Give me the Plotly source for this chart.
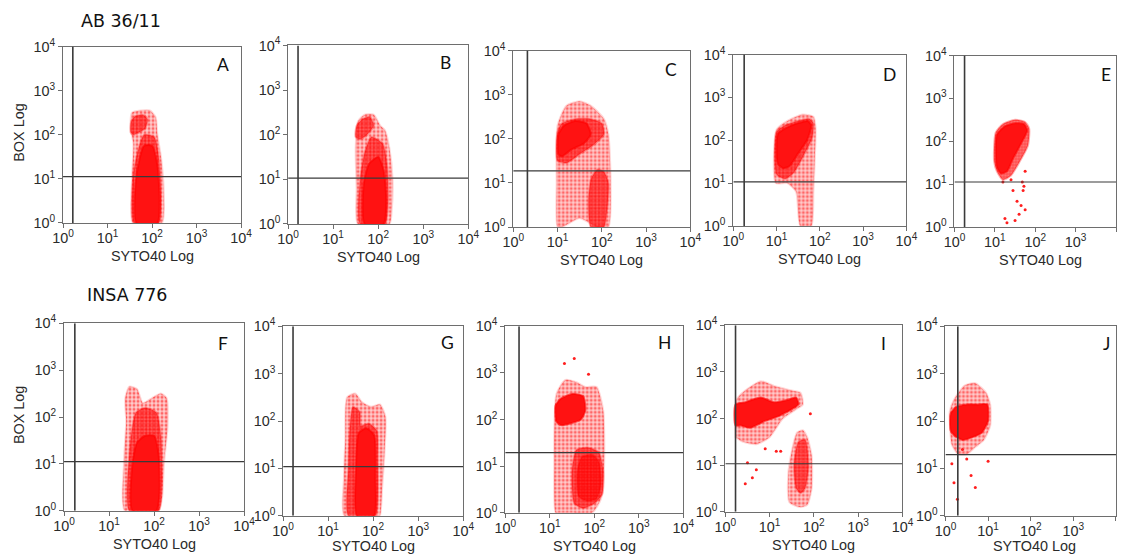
import plotly.graph_objects as go

W, H = 1127, 557

# ---------------------------------------------------------------------------
# Data (all coordinates in log10 decades: 0 -> 10^0 ... 4 -> 10^4)
# ---------------------------------------------------------------------------
PANELS = ["A", "B", "C", "D", "E", "F", "G", "H", "I", "J"]
STRAINS = ["AB 36/11", "INSA 776"]
DECADES = [0, 1, 2, 3, 4]
TICK_TEXT = ["10<sup>%d</sup>" % d for d in DECADES]

# gate positions (SYTO40 threshold, BOX threshold) per panel
GATE_SYTO40 = [0.22, 0.22, 0.32, 0.25, 0.25, 0.24, 0.22, 0.31, 0.23, 0.29]
GATE_BOX = [1.05, 1.03, 1.27, 1.03, 1.05, 1.05, 1.04, 1.29, 1.03, 1.29]

# population outlines: (SYTO40 decades, BOX decades)
A_HAZE = ([1.57, 1.55, 1.58, 1.52, 1.55, 1.75, 1.95, 2.08, 2.12, 2.2, 2.26, 2.22],
          [0, 1.0, 1.8, 2.15, 2.5, 2.55, 2.55, 2.4, 2.0, 1.5, 0.8, 0])
A_MID = ([1.6, 1.58, 1.7, 1.82, 2.05, 2.15, 2.2, 2.15],
         [0, 1.1, 1.7, 2.0, 1.95, 1.5, 0.6, 0])
A_BLOB = ([1.52, 1.53, 1.62, 1.8, 1.9, 1.85, 1.7, 1.58],
          [2.05, 2.3, 2.42, 2.45, 2.35, 2.15, 2.05, 2.0])
A_CORE = ([1.65, 1.63, 1.72, 1.82, 2.0, 2.12, 2.17, 2.12],
          [0, 0.9, 1.45, 1.75, 1.75, 1.3, 0.5, 0])

B_HAZE = ([1.55, 1.52, 1.5, 1.55, 1.7, 1.9, 2.05, 2.15, 2.25, 2.32, 2.3, 2.25],
          [0, 0.8, 1.7, 2.3, 2.45, 2.45, 2.2, 2.1, 1.7, 1.0, 0.3, 0])
B_BLOB = ([1.5, 1.52, 1.65, 1.82, 1.9, 1.75, 1.6],
          [1.95, 2.2, 2.35, 2.4, 2.2, 2.0, 1.9])
B_MID = ([1.6, 1.6, 1.7, 1.85, 2.1, 2.2, 2.22, 2.15],
         [0, 1.0, 1.6, 1.95, 1.8, 1.3, 0.5, 0])
B_CORE = ([1.7, 1.68, 1.8, 2.0, 2.12, 2.18, 2.12],
          [0, 0.9, 1.35, 1.5, 1.2, 0.5, 0])

C_HAZE = ([1.0, 0.98, 1.0, 1.2, 1.5, 1.75, 2.05, 2.15, 2.2, 2.15, 1.9, 1.5, 1.1],
          [0, 1.0, 2.3, 2.75, 2.85, 2.75, 2.45, 2.1, 1.0, 0, 0, 0.2, 0])
C_MID = ([1.0, 1.0, 1.1, 1.4, 1.75, 2.0, 2.05, 1.8, 1.5, 1.2],
         [1.5, 2.15, 2.35, 2.45, 2.45, 2.35, 2.1, 1.85, 1.65, 1.45])
C_LOW = ([1.75, 1.7, 1.76, 1.9, 2.05, 2.15, 2.12, 2.05, 1.9],
         [0, 0.6, 1.1, 1.3, 1.25, 1.0, 0.4, 0, 0])
C_CORE = ([1.02, 1.02, 1.15, 1.4, 1.65, 1.75, 1.6, 1.3, 1.1],
          [1.65, 2.1, 2.3, 2.4, 2.35, 2.1, 1.9, 1.75, 1.6])

D_HAZE = ([0.98, 1.0, 1.25, 1.6, 1.85, 1.9, 1.88, 1.85, 1.8, 1.55, 1.45, 1.25],
          [1.0, 2.25, 2.45, 2.6, 2.55, 2.3, 1.5, 0.8, 0, 0, 0.8, 1.0])
D_MID = ([1.0, 1.0, 1.2, 1.5, 1.75, 1.85, 1.82, 1.6, 1.4, 1.2],
         [1.2, 2.2, 2.35, 2.45, 2.5, 2.4, 2.05, 1.6, 1.25, 1.1])
D_CORE = ([1.03, 1.03, 1.25, 1.5, 1.72, 1.8, 1.7, 1.5, 1.3, 1.15],
          [1.45, 2.15, 2.3, 2.4, 2.45, 2.35, 2.0, 1.7, 1.4, 1.35])

E_HAZE = ([0.98, 1.02, 1.2, 1.5, 1.75, 1.85, 1.82, 1.6, 1.4, 1.2, 1.05],
          [1.55, 2.2, 2.4, 2.5, 2.45, 2.3, 1.9, 1.5, 1.2, 1.1, 1.3])
E_CORE = ([1.03, 1.05, 1.25, 1.5, 1.72, 1.8, 1.65, 1.45, 1.3, 1.15, 1.05],
          [1.6, 2.15, 2.35, 2.42, 2.4, 2.25, 1.95, 1.6, 1.3, 1.25, 1.4])
E_EVENTS = ([1.25, 1.3, 1.5, 1.55, 1.65, 1.7, 1.75, 1.68, 1.45, 1.4, 1.72, 1.2, 1.6, 1.75],
            [0.2, 0.1, 0.15, 0.6, 0.5, 0.85, 0.4, 1.05, 0.85, 1.1, 0.95, 1.05, 0.3, 1.3])

F_HAZE = ([1.35, 1.33, 1.38, 1.36, 1.45, 1.62, 1.75, 1.95, 2.15, 2.28, 2.3, 2.22, 2.18, 2.1],
          [0, 1.0, 1.9, 2.4, 2.65, 2.6, 2.3, 2.4, 2.5, 2.4, 1.8, 1.0, 0.3, 0])
F_MID = ([1.45, 1.45, 1.52, 1.6, 1.8, 2.05, 2.15, 2.17, 2.1],
         [0, 1.2, 1.8, 2.1, 2.2, 2.1, 1.6, 0.6, 0])
F_CORE = ([1.52, 1.52, 1.62, 1.8, 2.0, 2.1, 2.12, 2.05],
          [0, 1.0, 1.45, 1.6, 1.6, 1.2, 0.4, 0])

G_HAZE = ([1.36, 1.35, 1.38, 1.42, 1.6, 1.75, 1.95, 2.15, 2.27, 2.25, 2.2, 2.15, 2.1],
          [0, 0.8, 1.6, 2.5, 2.58, 2.4, 2.3, 2.35, 2.1, 1.3, 0.6, 0, 0])
G_MID = ([1.45, 1.45, 1.48, 1.55, 1.7, 1.72, 1.9, 2.08, 2.1, 2.1, 2.05],
         [0, 1.0, 1.8, 2.3, 2.2, 1.9, 1.95, 1.8, 1.2, 0.3, 0])
G_CORE = ([1.64, 1.62, 1.68, 1.85, 2.02, 2.05, 2.02],
          [0, 1.0, 1.75, 1.85, 1.7, 0.8, 0])

H_HAZE = ([1.13, 1.1, 1.15, 1.35, 1.6, 1.8, 2.05, 2.2, 2.22, 2.15, 1.95, 1.5, 1.2],
          [0, 1.0, 2.55, 2.85, 2.8, 2.7, 2.7, 2.2, 1.0, 0.3, 0, 0, 0])
H_MID = ([1.55, 1.5, 1.6, 1.85, 2.1, 2.2, 2.18, 2.0, 1.75],
         [0.2, 0.9, 1.35, 1.4, 1.3, 0.9, 0.4, 0.2, 0.1])
H_CORE = ([1.15, 1.13, 1.25, 1.5, 1.75, 1.8, 1.7, 1.4, 1.25],
          [1.95, 2.3, 2.45, 2.55, 2.5, 2.2, 2.0, 1.9, 1.88])
H_LOW = ([1.65, 1.62, 1.72, 1.95, 2.1, 2.15, 2.05, 1.85],
         [0.35, 0.9, 1.2, 1.25, 1.1, 0.6, 0.3, 0.25])
H_EVENTS = ([1.55, 1.33, 1.87], [3.31, 3.2, 2.97])

I_HAZE = ([0.23, 0.25, 0.45, 0.8, 1.1, 1.5, 1.7, 1.75, 1.6, 1.3, 1.0, 0.7, 0.4, 0.23],
          [1.6, 2.4, 2.6, 2.8, 2.7, 2.6, 2.55, 2.3, 2.2, 2.0, 1.6, 1.45, 1.5, 1.6])
I_CORE = ([0.23, 0.23, 0.45, 0.8, 1.1, 1.4, 1.6, 1.65, 1.5, 1.2, 0.9, 0.55, 0.35],
          [1.85, 2.3, 2.35, 2.45, 2.35, 2.4, 2.45, 2.3, 2.2, 2.05, 1.95, 1.8, 1.85])
I_TAIL = ([1.45, 1.42, 1.5, 1.62, 1.75, 1.85, 1.95, 1.95, 1.85, 1.7],
          [0.2, 0.8, 1.3, 1.7, 1.75, 1.6, 1.2, 0.5, 0.15, 0.1])
I_TAIL_MID = ([1.6, 1.55, 1.65, 1.8, 1.88, 1.8, 1.7],
              [0.5, 1.0, 1.5, 1.55, 1.0, 0.5, 0.4])
I_EVENTS = ([0.5, 0.45, 0.7, 1.15, 0.9, 1.25, 1.92, 0.61],
            [1.05, 0.6, 0.9, 1.3, 1.35, 1.3, 2.1, 0.73])

J_HAZE = ([0.12, 0.1, 0.2, 0.45, 0.7, 0.95, 1.05, 1.05, 0.9, 0.7, 0.5, 0.3, 0.15],
          [1.7, 2.2, 2.45, 2.75, 2.8, 2.6, 2.35, 1.9, 1.6, 1.45, 1.3, 1.3, 1.5])
J_CORE = ([0.12, 0.12, 0.25, 0.5, 0.75, 0.98, 1.0, 0.85, 0.6, 0.4, 0.2],
          [1.8, 2.15, 2.3, 2.35, 2.35, 2.35, 2.0, 1.75, 1.65, 1.6, 1.7])
J_EVENTS = ([0.15, 0.2, 0.5, 0.6, 0.7, 1.0, 0.4, 0.28],
            [1.1, 0.7, 1.2, 0.85, 0.6, 1.15, 1.4, 0.35])

# drawing order per panel: (outline, density level)
POPULATIONS = {
    "A": [(A_HAZE, "haze"), (A_MID, "mid"), (A_BLOB, "mid"), (A_CORE, "core")],
    "B": [(B_HAZE, "haze"), (B_BLOB, "mid"), (B_MID, "mid"), (B_CORE, "core")],
    "C": [(C_HAZE, "haze"), (C_MID, "mid"), (C_LOW, "mid"), (C_CORE, "core")],
    "D": [(D_HAZE, "haze"), (D_MID, "mid"), (D_CORE, "core")],
    "E": [(E_HAZE, "mid"), (E_CORE, "core")],
    "F": [(F_HAZE, "haze"), (F_MID, "mid"), (F_CORE, "core")],
    "G": [(G_HAZE, "haze"), (G_MID, "mid"), (G_CORE, "core")],
    "H": [(H_HAZE, "haze"), (H_MID, "mid"), (H_CORE, "core"), (H_LOW, "mid")],
    "I": [(I_HAZE, "haze"), (I_TAIL, "haze"), (I_TAIL_MID, "mid"), (I_CORE, "core")],
    "J": [(J_HAZE, "haze"), (J_CORE, "core")],
}
EVENTS = {"E": E_EVENTS, "H": H_EVENTS, "I": I_EVENTS, "J": J_EVENTS}

# ---------------------------------------------------------------------------
# Layout. Positions below are window pixels; the page shows the figure with a
# small body inset and slight scaling, so they are mapped into figure pixels.
# ---------------------------------------------------------------------------
INSET_X, SCALE_X = 11.0, 0.98
INSET_Y, SCALE_Y = 10.6, 0.965
FONT_SCALE = 1 / 0.972


def fx(px):
    """window x pixel -> paper fraction"""
    return min(max((px - INSET_X) / SCALE_X / W, 0.0), 1.0)


def fy(py):
    """window y pixel -> paper fraction (measured from the bottom)"""
    return min(max(1 - (py - INSET_Y) / SCALE_Y / H, 0.0), 1.0)


# plot-area boxes (left, right, top, bottom)
BOXES = {
    "A": (63, 241, 47, 223), "B": (288, 468, 46, 224), "C": (513, 690, 51, 227),
    "D": (733, 906, 55, 226), "E": (954, 1126, 56, 227),
    "F": (64, 244, 323, 510), "G": (283, 463, 326, 515), "H": (505, 683, 326, 512),
    "I": (725, 902, 325, 511), "J": (945, 1123, 326, 515),
}
# panel letter centres
LETTER_POS = {
    "A": (223, 65), "B": (445, 63), "C": (671, 70), "D": (889, 75), "E": (1105, 75),
    "F": (223, 343), "G": (447, 342), "H": (664, 342), "I": (883, 343), "J": (1106, 343),
}
# speckled density levels drawn as dotted pattern fills
PATTERN = {
    "haze": dict(shape=".", fgcolor="rgb(255,0,0)", bgcolor="rgba(255,0,0,0.2)",
                 size=4, solidity=0.45),
    "mid": dict(shape=".", fgcolor="rgb(255,0,0)", bgcolor="rgba(255,0,0,0.48)",
                size=3, solidity=0.6),
    "core": None,
}
EDGE = {"haze": "rgba(255,0,0,0.15)", "mid": "rgba(255,0,0,0.3)", "core": "rgba(255,0,0,0.6)"}

SANS = "Liberation Sans, Arial, sans-serif"
TICK_FONT = dict(family=SANS, size=14 * FONT_SCALE, color="#2a2a2a")
LABEL_FONT = dict(family=SANS, size=14 * FONT_SCALE, color="#2a2a2a")
LETTER_FONT = dict(family="Lato, Open Sans, sans-serif", size=17 * FONT_SCALE, color="#111")
HEAD_FONT = dict(family="DejaVu Sans, sans-serif", size=17 * FONT_SCALE, color="#111")
FRAME = "#6e6e6e"
GATE = "#3a3a3a"

fig = go.Figure()
layout = dict(
    width=W, height=H, margin=dict(l=0, r=0, t=0, b=0),
    paper_bgcolor="white", plot_bgcolor="white", showlegend=False,
    shapes=[], annotations=[],
)

for i, pid in enumerate(PANELS):
    n = "" if i == 0 else str(i + 1)
    xa, ya = "x" + n, "y" + n
    left, right, top, bottom = BOXES[pid]

    for (xs, ys), level in POPULATIONS[pid]:
        style = dict(fillcolor="rgb(255,18,18)") if PATTERN[level] is None \
            else dict(fillpattern=PATTERN[level], fillcolor="rgba(0,0,0,0)")
        fig.add_trace(go.Scatter(
            x=list(xs) + [xs[0]], y=list(ys) + [ys[0]], xaxis=xa, yaxis=ya,
            mode="lines", fill="toself",
            line=dict(color=EDGE[level], width=2, shape="spline", smoothing=0.6),
            hoverinfo="skip", **style,
        ))
    if pid in EVENTS:
        ex, ey = EVENTS[pid]
        fig.add_trace(go.Scatter(
            x=ex, y=ey, xaxis=xa, yaxis=ya, mode="markers",
            marker=dict(color="rgb(255,30,30)", size=3), hoverinfo="skip",
        ))

    axis_common = dict(
        range=[0, 4], tickvals=DECADES, ticktext=TICK_TEXT, tickfont=TICK_FONT,
        showgrid=False, zeroline=False, showline=True, mirror=True,
        linecolor=FRAME, linewidth=1, ticks="outside", ticklen=4,
        tickcolor=FRAME, fixedrange=True,
    )
    layout["xaxis" + n] = dict(axis_common, domain=[fx(left), fx(right)], anchor=ya,
                               ticklabelstandoff=-2)
    layout["yaxis" + n] = dict(axis_common, domain=[fy(bottom), fy(top)], anchor=xa)

    # gate lines
    layout["shapes"].append(dict(type="line", xref=xa, yref=ya, x0=GATE_SYTO40[i],
                                 x1=GATE_SYTO40[i], y0=0, y1=4,
                                 line=dict(color=GATE, width=1.6)))
    layout["shapes"].append(dict(type="line", xref=xa, yref=ya, x0=0, x1=4,
                                 y0=GATE_BOX[i], y1=GATE_BOX[i],
                                 line=dict(color=GATE, width=1.2)))

    # panel letter
    lx, ly = LETTER_POS[pid]
    layout["annotations"].append(dict(
        text=pid, xref="paper", yref="paper", x=fx(lx), y=fy(ly),
        xanchor="center", yanchor="middle", showarrow=False, font=LETTER_FONT,
    ))
    # x-axis title (the lower row sits against the bottom edge)
    layout["annotations"].append(dict(
        text="SYTO40 Log", xref="paper", yref="paper", xanchor="center", yanchor="middle",
        x=fx((left + right) / 2), y=max(fy(bottom + 33), 0.005), showarrow=False,
        font=LABEL_FONT,
    ))
    # y-axis title on the first panel of each row
    if pid in ("A", "F"):
        layout["annotations"].append(dict(
            text="BOX Log", xref="paper", yref="paper", textangle=-90,
            xanchor="center", yanchor="middle",
            x=fx(19), y=fy((top + bottom) / 2 - 2), showarrow=False,
            font=LABEL_FONT,
        ))

# strain headings
for label, (px, py) in zip(STRAINS, [(79, 22), (85, 295)]):
    layout["annotations"].append(dict(
        text=label, xref="paper", yref="paper", x=fx(px), y=fy(py),
        xanchor="left", yanchor="middle", showarrow=False, font=HEAD_FONT,
    ))

fig.update_layout(**layout)
fig.write_html("out.html")
